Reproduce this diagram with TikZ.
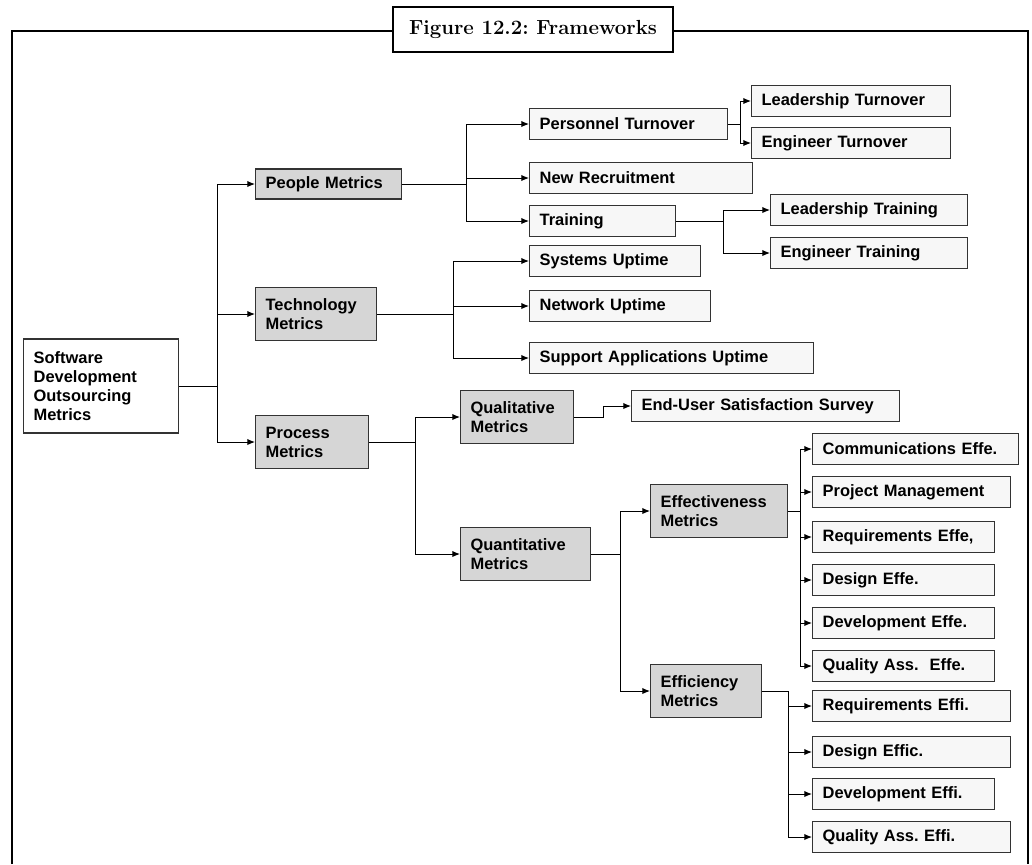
\documentclass[tikz,border=0pt]{standalone}
\usepackage{fontspec}
\usepackage{tikz}
\usetikzlibrary{arrows.meta}
\newfontfamily\boxfont{Liberation Sans}
\frenchspacing
\tikzset{
  box/.style={draw=black!80, line width=0.9pt, anchor=west, align=left, inner xsep=0.25cm, inner ysep=1pt, font=\boxfont\bfseries\fontsize{11.7}{13.5}\selectfont},
  rootbox/.style={box, fill=white, minimum height=2.35cm},
  midbox/.style={box, fill=black!16, minimum height=1.32cm},
  leafbox/.style={box, fill=black!3, minimum height=0.79cm},
  tra/.style={-{Latex[length=5.5pt,width=4.5pt]}, line width=0.7pt},
  frm/.style={line width=1.4pt},
  ttl/.style={draw, fill=white, line width=1.4pt, minimum width=7cm, minimum height=1.125cm, font=\bfseries\fontsize{14.5}{16}\selectfont}
}
\newcommand{\fanout}[3]{\foreach \kid in {#3}{\draw[tra] (#1.east) -- ++(#2,0) |- (\kid.west);}}

\begin{document}
\begin{tikzpicture}[x=0.025cm, y=-0.025cm]
		\useasboundingbox (0,0) rectangle (1032,864);
		\draw[frm] (12,864) -- (12,31) -- (1028,31) -- (1028,864);
		\node[ttl] (fig) at (533,29.5) {Figure 12.2: Frameworks};
		% first level
		\node[rootbox, text width=3.375cm] (sdom) at (23,386) {Software\\Development\\Outsourcing\\Metrics};
		\node[midbox, text width=3.15cm, minimum height=0.75cm] (pm) at (255,184) {People Metrics};
		\node[midbox, text width=2.525cm] (tm) at (255,314) {Technology\\Metrics};
		\node[midbox, text width=2.325cm] (prm) at (255,442) {Process\\Metrics};
		% people
		\node[leafbox, text width=4.45cm] (pt) at (529,124) {Personnel Turnover};
		\node[leafbox, text width=5.075cm] (nr) at (529,178) {New Recruitment};
		\node[leafbox, text width=3.15cm] (tr) at (529,221) {Training};
		\node[leafbox, text width=4.475cm] (lt) at (751,101) {Leadership Turnover};
		\node[leafbox, text width=4.475cm] (et) at (751,143) {Engineer Turnover};
		\node[leafbox, text width=4.425cm] (ltr) at (770,210) {Leadership Training};
		\node[leafbox, text width=4.425cm] (etr) at (770,253) {Engineer Training};
		% technology
		\node[leafbox, text width=3.775cm] (su) at (529,261) {Systems Uptime};
		\node[leafbox, text width=4.025cm] (nu) at (529,306) {Network Uptime};
		\node[leafbox, text width=6.6cm] (sau) at (529,358) {Support Applications Uptime};
		% process
		\node[midbox, text width=2.325cm] (qlm) at (460,417) {Qualitative\\Metrics};
		\node[midbox, text width=2.75cm] (qnm) at (460,554) {Quantitative\\Metrics};
		\node[leafbox, text width=6.2cm] (eus) at (631,406) {End-User Satisfaction Survey};
		\node[midbox, text width=2.925cm] (efm) at (650,511) {Effectiveness\\Metrics};
		\node[midbox, text width=2.275cm] (ecm) at (650,691) {Efficiency\\Metrics};
		\node[leafbox, text width=4.65cm] (ce) at (812,449) {Communications Effe.};
		\node[leafbox, text width=4.45cm] (pjm) at (812,492) {Project Management};
		\node[leafbox, text width=4.05cm] (ree) at (812,537) {Requirements Effe,};
		\node[leafbox, text width=4.05cm] (dee) at (812,580) {Design Effe.};
		\node[leafbox, text width=4.05cm] (dve) at (812,623) {Development Effe.};
		\node[leafbox, text width=4.05cm] (qae) at (812,666) {Quality Ass.\ \ Effe.};
		\node[leafbox, text width=4.45cm] (rei) at (812,706) {Requirements Effi.};
		\node[leafbox, text width=4.45cm] (dei) at (812,752) {Design Effic.};
		\node[leafbox, text width=4.05cm] (dvi) at (812,794) {Development Effi.};
		\node[leafbox, text width=4.45cm] (qai) at (812,837) {Quality Ass. Effi.};
		% connectors
		\fanout{sdom}{38}{pm,tm,prm}
		\fanout{pm}{64}{pt,nr,tr}
		\fanout{tm}{76}{su,nu,sau}
		\fanout{prm}{46}{qlm,qnm}
		\fanout{pt}{12}{lt,et}
		\fanout{tr}{47}{ltr,etr}
		\fanout{qlm}{29}{eus}
		\fanout{qnm}{29}{efm,ecm}
		\fanout{efm}{12}{ce,pjm,ree,dee,dve,qae}
		\fanout{ecm}{26}{rei,dei,dvi,qai}
	\end{tikzpicture}
\end{document}
